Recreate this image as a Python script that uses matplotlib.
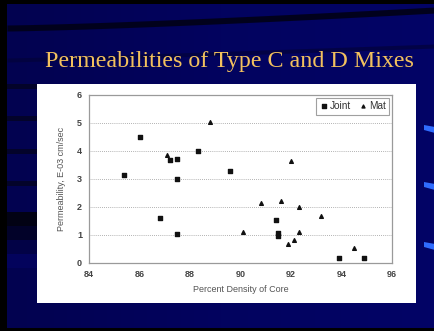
import numpy as np
import matplotlib
matplotlib.use("Agg")
import matplotlib.pyplot as plt
from matplotlib.patches import Rectangle, Polygon

# Permeability data (E-03 cm/sec) against percent density of core
joint_density = [85.4, 86.0, 87.2, 87.5, 87.5, 88.3, 89.6, 86.8, 87.5, 91.4, 91.5, 91.5, 93.9, 94.9]
joint_perm = [3.15, 4.5, 3.68, 3.7, 3.0, 4.01, 3.3, 1.62, 1.04, 1.55, 1.07, 0.95, 0.17, 0.17]

mat_density = [87.1, 88.8, 90.1, 90.8, 91.6, 92.0, 92.3, 93.2, 92.3, 92.1, 91.9, 94.5]
mat_perm = [3.85, 5.05, 1.1, 2.13, 2.21, 3.64, 1.99, 1.67, 1.12, 0.83, 0.68, 0.55]

x_ticks = [84, 86, 88, 90, 92, 94, 96]
y_ticks = [0, 1, 2, 3, 4, 5, 6]

W, H = 435, 331
fig = plt.figure(figsize=(W / 100, H / 100), dpi=100)
fig.patch.set_facecolor("#000000")

# slide background
bg = fig.add_axes([0, 0, 1, 1])
bg.set_xlim(0, W)
bg.set_ylim(H, 0)
bg.axis("off")
bg.imshow(np.linspace(0, 1, 64)[None, :], extent=(7, W, 328, 4), aspect="auto",
          cmap=matplotlib.colors.LinearSegmentedColormap.from_list(
              "slide", ["#020250", "#02035f", "#020366"]))

# dark curved bands across the top
xs = np.linspace(7, W, 80)
top_edge = 25 - 18 * ((xs - 7) / (W - 7)) ** 1.3
bg.fill_between(xs, top_edge, top_edge + 6, color="#01011c", lw=0)
low_edge = 60 - 14 * ((xs - 7) / (W - 7)) ** 1.1
bg.fill_between(xs, low_edge - 2, low_edge + 2, color="#02023a", lw=0, alpha=0.7)

# dark horizontal bands on the left margin
for yy in (84, 116, 149, 181):
    bg.add_patch(Rectangle((7, yy), 30, 5, facecolor="#03032a", edgecolor="none"))
bg.imshow(np.array([[0.0], [0.3], [0.7], [1.0]]), extent=(7, 37, 268, 212), aspect="auto",
          cmap=matplotlib.colors.LinearSegmentedColormap.from_list(
              "shade", ["#020214", "#03035c"]))

# light blue accents on the right edge
for yy in (128, 185, 245):
    bg.add_patch(Polygon([(424, yy - 3), (435, yy - 1), (435, yy + 5), (424, yy + 2)],
                         closed=True, facecolor="#2f6cff", edgecolor="none"))
# chart panel
bg.add_patch(Rectangle((37, 84), 379, 219, facecolor="white", edgecolor="none"))
bg.set_xlim(0, W)
bg.set_ylim(H, 0)

fig.text(229 / W, 1 - 62 / H, "Permeabilities of Type C and D Mixes",
         ha="center", va="center", color="#f2c15e",
         fontsize=17.3, family="Liberation Serif")

ax = fig.add_axes([89 / W, 1 - 263 / H, (392 - 89) / W, (263 - 95) / H])
ax.set_facecolor("white")
ax.scatter(joint_density, joint_perm, marker="s", s=9, color="#111111", label="Joint", zorder=3)
ax.scatter(mat_density, mat_perm, marker="^", s=7, color="#111111", label="Mat", zorder=3)

ax.set_xlim(84, 96)
ax.set_ylim(0, 6)
ax.set_xticks(x_ticks)
ax.set_yticks(y_ticks)
ax.set_xticklabels([str(t) for t in x_ticks])
ax.set_yticklabels([str(t) for t in y_ticks])
ax.tick_params(length=0, labelsize=6.5, colors="#444444", pad=5)
for lab in ax.get_xticklabels() + ax.get_yticklabels():
    lab.set_family("Liberation Sans")
    lab.set_fontweight("bold")
ax.yaxis.grid(True, linestyle=(0, (1, 1.5)), color="#999999", linewidth=0.6)
ax.set_axisbelow(True)
for sp in ax.spines.values():
    sp.set_color("#9a9a9a")
    sp.set_linewidth(0.9)

ax.set_xlabel("Percent Density of Core", fontsize=6.5, color="#555555",
              family="Liberation Sans", labelpad=4)
ax.set_ylabel("Permeability, E-03 cm/sec", fontsize=6.5, color="#555555",
              family="Liberation Sans", labelpad=8)

leg = ax.legend(loc="upper right", ncol=2, frameon=True, fancybox=False,
                handletextpad=0.2, columnspacing=0.8, handlelength=0.8,
                borderpad=0.35, borderaxespad=0.25, markerscale=0.8,
                prop={"family": "Liberation Sans", "size": 7.2})
leg.get_frame().set_edgecolor("#888888")
leg.get_frame().set_linewidth(0.8)
for t in leg.get_texts():
    t.set_color("#333333")

fig.savefig("out.png", dpi=100, facecolor=fig.get_facecolor())
